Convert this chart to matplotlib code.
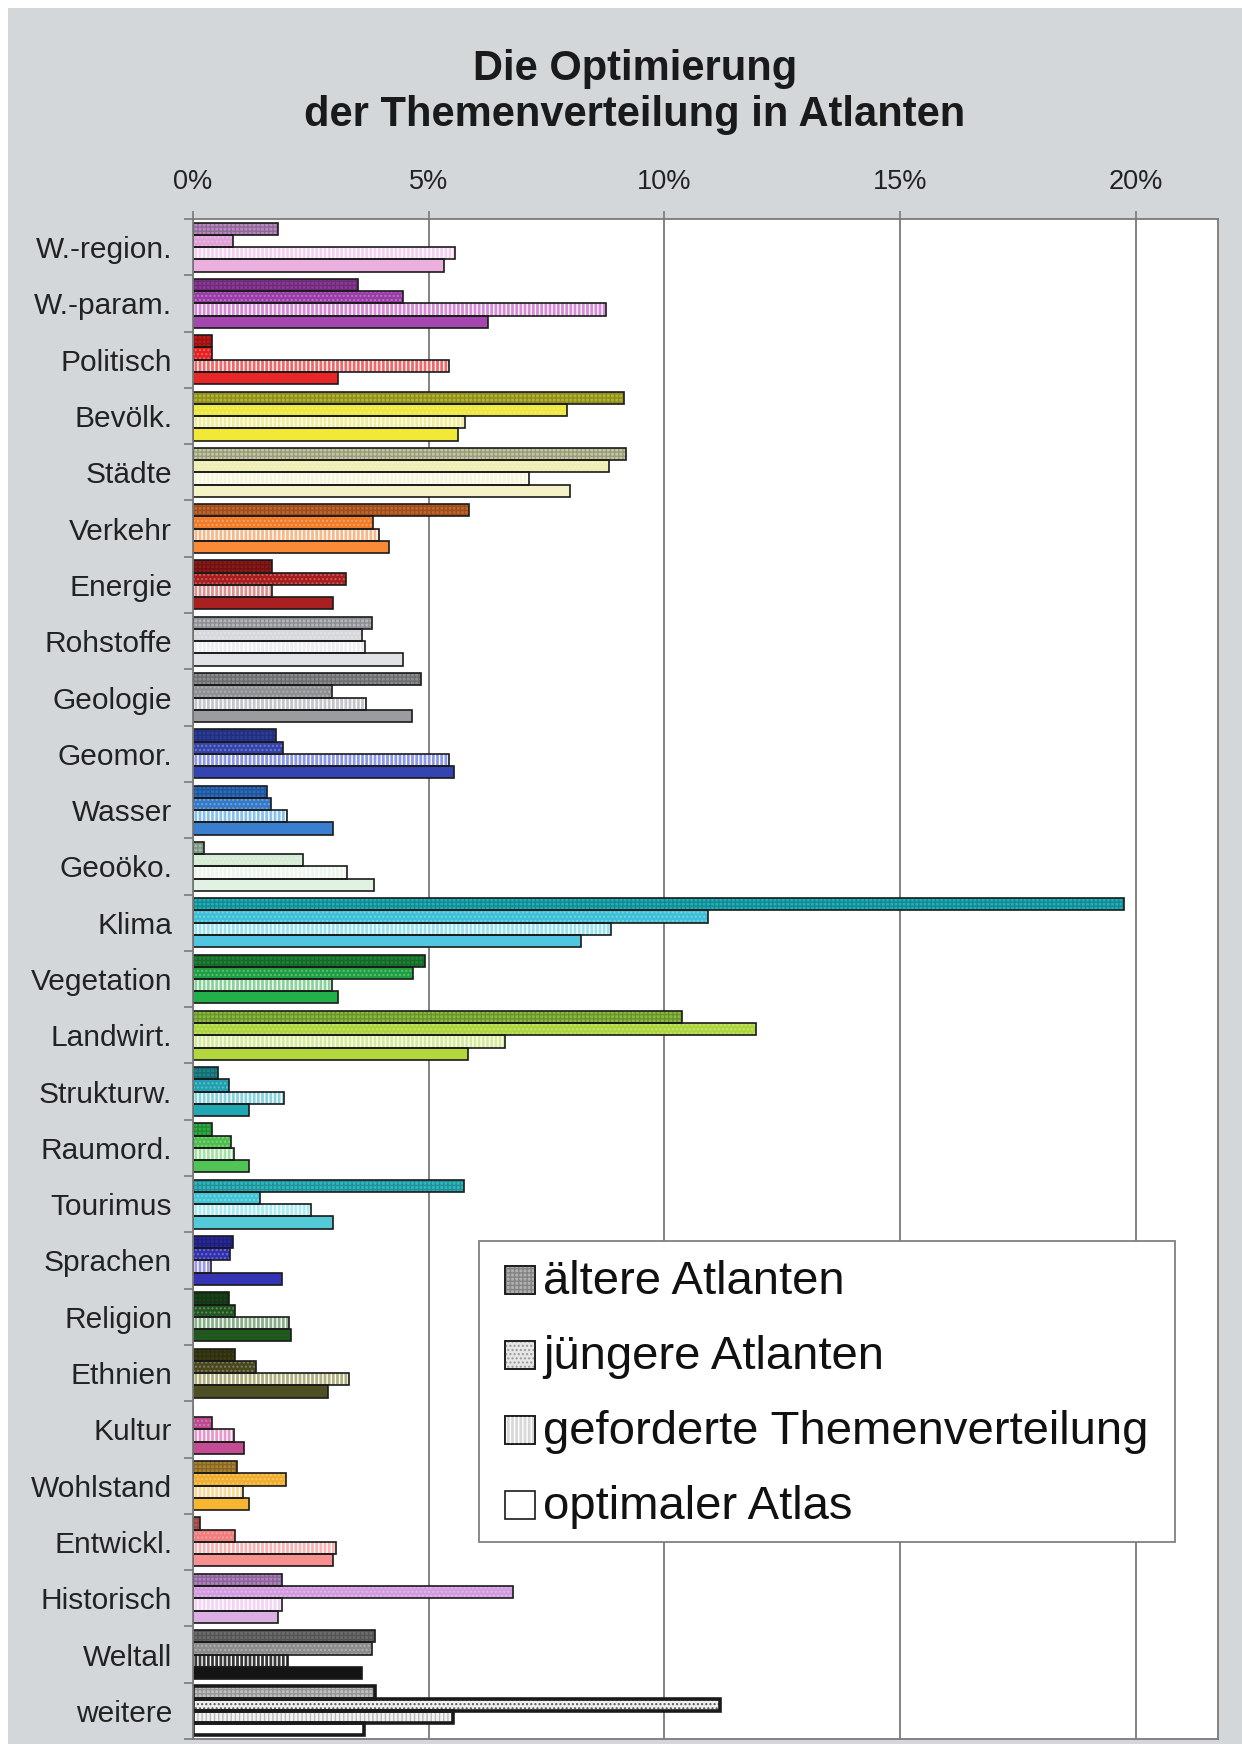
import numpy as np
import matplotlib
matplotlib.use('Agg')
import matplotlib.pyplot as plt
from matplotlib.patches import Rectangle
from matplotlib.colors import to_rgb

plt.rcParams['font.family'] = ['Liberation Sans', 'DejaVu Sans']
plt.rcParams['hatch.linewidth'] = 1.0

# Daten (Anteile in %)
themen = ['W.-region.', 'W.-param.', 'Politisch', 'Bevölk.', 'Städte', 'Verkehr', 'Energie',
          'Rohstoffe', 'Geologie', 'Geomor.', 'Wasser', 'Geoöko.', 'Klima', 'Vegetation',
          'Landwirt.', 'Strukturw.', 'Raumord.', 'Tourimus', 'Sprachen', 'Religion', 'Ethnien',
          'Kultur', 'Wohlstand', 'Entwickl.', 'Historisch', 'Weltall', 'weitere']
aeltere = [1.81, 3.51, 0.41, 9.14, 9.19, 5.85, 1.68, 3.80, 4.83, 1.76, 1.56, 0.23, 19.75, 4.92,
           10.38, 0.52, 0.41, 5.76, 0.84, 0.77, 0.90, 0.0, 0.93, 0.15, 1.89, 3.87, 3.87]
juengere = [0.85, 4.45, 0.41, 7.93, 8.83, 3.83, 3.25, 3.58, 2.96, 1.91, 1.66, 2.34, 10.92, 4.67,
            11.95, 0.76, 0.81, 1.43, 0.79, 0.90, 1.34, 0.41, 1.97, 0.89, 6.79, 3.80, 11.18]
gefordert = [5.57, 8.76, 5.43, 5.78, 7.13, 3.95, 1.68, 3.64, 3.67, 5.43, 1.99, 3.27, 8.86, 2.96,
             6.63, 1.94, 0.88, 2.50, 0.39, 2.03, 3.32, 0.86, 1.06, 3.04, 1.89, 2.02, 5.52]
optimal = [5.33, 6.25, 3.07, 5.62, 7.99, 4.15, 2.97, 4.45, 4.65, 5.54, 2.97, 3.85, 8.23, 3.08,
           5.83, 1.19, 1.18, 2.97, 1.89, 2.07, 2.87, 1.09, 1.19, 2.98, 1.80, 3.58, 3.62]
serien = ['ältere Atlanten', 'jüngere Atlanten', 'geforderte Themenverteilung', 'optimaler Atlas']
xticks = [0, 5, 10, 15, 20]

# Farben je Thema und Reihe
farben_alt = ['#b888c0', '#8c3898', '#c01818', '#b4b42c', '#c4c8a0', '#c46428', '#8c1818', '#b4b6bc',
              '#8a8c90', '#2c3c9c', '#2a6cc0', '#9cbca4', '#1cb0b8', '#1c8434', '#88bc3c', '#1c8890',
              '#2cae40', '#2cb8c0', '#28289c', '#184418', '#3c3c14', '#a83c80', '#ac8430', '#c05858',
              '#b080c0', '#6c6c6c', '#c0c0c0']
farben_jung = ['#e0a0d8', '#9a3ca8', '#e82020', '#ece83c', '#eeeeb4', '#f07c28', '#a81c1c', '#d6d8dc',
               '#8e9094', '#3444aa', '#3478c8', '#d4ecd4', '#3cc0d8', '#1ea040', '#acd63c', '#1ea0b0',
               '#4cbe4c', '#3ec6d6', '#3030b0', '#1e561e', '#48481c', '#c04890', '#f0ae2c', '#f07c7c',
               '#d49ce0', '#8c8c8c', '#f0f0f0']
farben_gef = ['#f4d0f0', '#d68ad8', '#f06868', '#f2ee98', '#f8f6d8', '#f8b888', '#e09090', '#eceef0',
              '#c4c6ca', '#8c98e8', '#88c0f0', '#ecf6ec', '#98e4f4', '#88d498', '#d4ec98', '#88d4e0',
              '#a4e2a4', '#a8ecf4', '#9898e4', '#88b088', '#b0b080', '#e898c8', '#fad898', '#fab4b4',
              '#f4d4f4', '#383838', '#f4f4f4']
farben_opt = ['#ecb0e0', '#a448b0', '#e82828', '#f2e838', '#f6f2c8', '#f88a38', '#aa2020', '#e0e2e6',
              '#9a9ca0', '#3444b0', '#3a7ed0', '#e2f2e2', '#50c6e0', '#22b04a', '#b2d83e', '#20a8b4',
              '#50c454', '#54cad8', '#3434b4', '#20581e', '#4e5024', '#c44c94', '#f8b630', '#f89090',
              '#dcaee4', '#141414', '#ffffff']
legende_farben = ['#b0b0b0', '#e6e6e6', '#d8d8d8', '#ffffff']


def dunkel(c, f=0.7):
    r = np.array(to_rgb(c))
    return tuple(r * f)


def hell(c, f=0.6):
    r = np.array(to_rgb(c))
    return tuple(r + (1 - r) * f)


W, H = 1242, 1744
fig = plt.figure(figsize=(W / 100, H / 100), dpi=100)
fig.patch.set_facecolor('white')
fig.add_artist(Rectangle((8 / W, 0), 1 - 8 / W, 1 - 8 / H, transform=fig.transFigure,
                         facecolor='#d4d7da', edgecolor='none', zorder=-5))

ax = fig.add_axes([193 / W, 1 - 1739 / H, (1218 - 193) / W, (1739 - 219) / H])
ax.set_facecolor('white')

n = len(themen)
y = np.arange(n)
h = 0.2175
randbreite = [1.2] * (n - 1) + [2.6]
reihen = [
    (aeltere, farben_alt, '++++', [dunkel(c, 0.78) for c in farben_alt]),
    (juengere, farben_jung, '....', [hell(c, 0.3) for c in farben_jung[:-1]] + ['#555555']),
    (gefordert, farben_gef, '||||', ['white'] * (n - 1) + ['#bbbbbb']),
    (optimal, farben_opt, None, None),
]
for k, (werte, farben, muster, musterfarben) in enumerate(reihen):
    pos = y + (k - 1.5) * h
    ax.barh(pos, werte, height=h, color=farben, edgecolor='none', linewidth=0, zorder=2)
    if muster:
        ax.barh(pos, werte, height=h, color='none', edgecolor=musterfarben, hatch=muster,
                linewidth=0, zorder=2.1)
    ax.barh(pos, werte, height=h, fill=False, edgecolor='#1a1a1a', linewidth=randbreite, zorder=2.2)

ax.set_xlim(0, 21.75)
ax.set_ylim(n - 0.5, -0.5)
ax.xaxis.tick_top()
ax.set_xticks(xticks)
ax.set_xticklabels([f'{v}%' for v in xticks])
ax.tick_params(axis='x', length=6, width=1.2, color='#7a7a7a', labelsize=19.5, pad=11,
               labelcolor='#222222')
ax.grid(axis='x', color='#7a7a7a', linewidth=1.3, zorder=1)
ax.set_axisbelow(True)

ax.set_yticks(np.arange(-0.5, n, 1.0))
ax.set_yticklabels([])
ax.set_yticks(y, minor=True)
ax.set_yticklabels(themen, minor=True)
ax.tick_params(axis='y', which='major', length=6.5, width=1.2, color='#7a7a7a')
ax.tick_params(axis='y', which='minor', length=0, labelsize=21.5, pad=15, labelcolor='#222222')
for s in ax.spines.values():
    s.set_color('#7a7a7a')
    s.set_linewidth(1.3)

# Titel
fig.text(635 / W, 1 - 80 / H, 'Die Optimierung', ha='center', va='baseline',
         fontsize=30, fontweight='bold', color='#1a1a1a')
fig.text(635 / W, 1 - 126 / H, 'der Themenverteilung in Atlanten', ha='center', va='baseline',
         fontsize=30, fontweight='bold', color='#1a1a1a')

# Legende
fig.add_artist(Rectangle((479 / W, 1 - 1542 / H), (1175 - 479) / W, (1542 - 1241) / H,
                         transform=fig.transFigure, facecolor='white', edgecolor='#808080',
                         linewidth=1.3, zorder=10))
for i, (name, fc) in enumerate(zip(serien, legende_farben)):
    basis = 1294 + i * 75
    muster = reihen[i][2]
    fig.add_artist(Rectangle((505 / W, 1 - basis / H), 30 / W, 28 / H, transform=fig.transFigure,
                             facecolor=fc, edgecolor='#1a1a1a', linewidth=1.2, zorder=11))
    if muster:
        mc = dunkel(fc, 0.75) if i == 0 else ('#999999' if i == 1 else 'white')
        fig.add_artist(Rectangle((505 / W, 1 - basis / H), 30 / W, 28 / H, transform=fig.transFigure,
                                 facecolor='none', edgecolor=mc, hatch=muster, linewidth=0,
                                 zorder=11.5))
        fig.add_artist(Rectangle((505 / W, 1 - basis / H), 30 / W, 28 / H, transform=fig.transFigure,
                                 fill=False, edgecolor='#1a1a1a', linewidth=1.2, zorder=11.6))
    fig.text(543 / W, 1 - basis / H, name, ha='left', va='baseline', fontsize=34,
             color='#111111', zorder=12)

fig.savefig('out.png', dpi=100)
